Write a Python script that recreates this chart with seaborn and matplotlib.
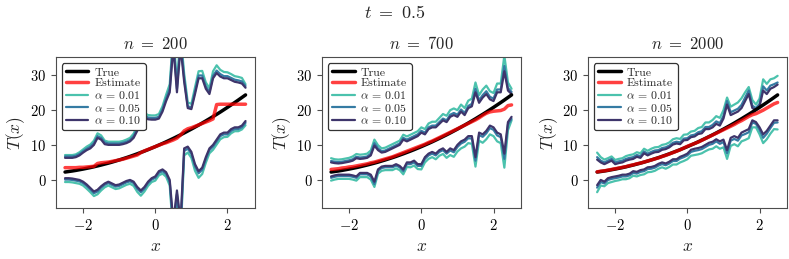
import numpy as np
import pandas as pd
import seaborn as sns
import matplotlib.pyplot as plt

# evaluation grid (x) and true curve T(x)
x_vals = np.round(np.linspace(-2.5, 2.5, 51), 1)
true_T = [2.25, 2.40, 2.55, 2.72, 2.91, 3.10, 3.31, 3.52, 3.75, 4.00,
          4.25, 4.52, 4.79, 5.08, 5.39, 5.70, 6.03, 6.36, 6.71, 7.08,
          7.45, 7.84, 8.23, 8.64, 9.07, 9.50, 9.95, 10.40, 10.87, 11.36,
          11.85, 12.36, 12.87, 13.40, 13.95, 14.50, 15.07, 15.64, 16.23, 16.84,
          17.45, 18.08, 18.71, 19.36, 20.03, 20.70, 21.39, 22.08, 22.79, 23.52,
          24.25]

# ---- n = 200 ----
est_200 = [3.5, 3.5, 3.5, 3.5, 3.6, 3.6, 3.7, 3.8, 3.9, 4.7,
           4.9, 5.0, 5.1, 5.3, 5.5, 5.7, 5.9, 6.2, 6.5, 6.8,
           7.1, 7.8, 8.3, 8.7, 9.1, 9.5, 9.9, 10.3, 10.6, 11.0,
           11.4, 11.9, 12.8, 14.0, 14.6, 14.9, 15.3, 15.7, 16.1, 16.5,
           16.9, 17.4, 21.5, 21.6, 21.6, 21.6, 21.6, 21.6, 21.6, 21.6,
           21.6]
up10_200 = [6.3, 6.3, 6.3, 6.5, 7.0, 7.8, 8.5, 9.0, 10.0, 12.0,
            11.5, 10.2, 10.0, 10.0, 10.0, 10.0, 10.2, 10.5, 11.0, 12.0,
            14.0, 18.0, 17.8, 17.3, 17.2, 17.2, 17.5, 19.5, 22.5, 25.0,
            38.0, 25.0, 38.0, 28.0, 20.5, 20.2, 24.5, 29.0, 29.0, 26.0,
            24.5, 29.0, 30.5, 29.5, 29.0, 29.0, 28.5, 28.0, 27.8, 27.5,
            26.3]
up05_200 = [6.7, 6.7, 6.7, 6.9, 7.4, 8.2, 8.9, 9.5, 10.5, 12.5,
            12.0, 10.7, 10.4, 10.4, 10.4, 10.4, 10.6, 10.9, 11.4, 12.5,
            14.6, 18.6, 18.3, 17.8, 17.7, 17.7, 18.0, 20.1, 23.2, 26.0,
            40.0, 26.0, 40.0, 29.0, 21.0, 20.7, 25.2, 29.8, 29.8, 26.7,
            25.1, 29.7, 31.2, 30.2, 29.6, 29.6, 29.1, 28.6, 28.4, 28.1,
            26.8]
up01_200 = [7.1, 7.1, 7.1, 7.3, 7.9, 8.7, 9.5, 10.1, 11.2, 13.3,
            12.7, 11.2, 10.9, 10.9, 10.9, 10.9, 11.1, 11.5, 12.0, 13.2,
            15.4, 19.4, 19.1, 18.5, 18.4, 18.4, 18.8, 21.0, 24.3, 27.3,
            42.0, 27.3, 42.0, 30.3, 22.1, 21.7, 26.4, 31.0, 31.1, 27.8,
            26.2, 31.0, 32.7, 31.4, 30.8, 30.7, 30.2, 29.6, 29.4, 29.1,
            27.3]
lo10_200 = [0.5, 0.5, 0.4, 0.2, 0.0, -0.5, -1.3, -2.3, -3.3, -2.8,
            -1.8, -1.0, -0.5, -1.0, -1.5, -1.3, -0.8, -0.3, 0.0, -0.5,
            -2.0, -3.0, -2.0, -0.5, 0.5, 1.0, 2.5, 3.0, 2.2, 0.0,
            -12.0, -3.0, -12.0, 9.0, 9.5, 8.0, 4.5, 2.5, 3.5, 6.5,
            9.0, 10.0, 11.5, 13.0, 13.5, 13.5, 14.5, 15.0, 15.0, 15.5,
            16.8]
lo05_200 = [0.1, 0.1, 0.0, -0.2, -0.4, -0.9, -1.7, -2.7, -3.8, -3.3,
            -2.2, -1.4, -0.9, -1.4, -1.9, -1.7, -1.2, -0.7, -0.4, -0.9,
            -2.5, -3.5, -2.5, -0.9, 0.1, 0.6, 2.0, 2.5, 1.7, -0.6,
            -14.0, -4.0, -14.0, 8.3, 8.9, 7.4, 3.9, 1.9, 2.9, 5.9,
            8.5, 9.5, 11.0, 12.5, 13.0, 13.0, 14.0, 14.5, 14.5, 15.0,
            16.3]
lo01_200 = [-0.6, -0.6, -0.7, -0.9, -1.1, -1.6, -2.5, -3.5, -4.6, -4.1,
            -3.0, -2.1, -1.6, -2.1, -2.6, -2.4, -1.9, -1.4, -1.1, -1.7,
            -3.4, -4.5, -3.3, -1.7, -0.6, -0.2, 1.3, 1.8, 0.9, -1.6,
            -16.0, -5.5, -16.0, 7.0, 7.8, 6.3, 2.6, 0.6, 1.7, 4.9,
            7.6, 8.6, 10.1, 11.6, 12.2, 12.3, 13.3, 13.9, 13.9, 14.4,
            15.6]

# ---- n = 700 ----
est_700 = [3.0, 3.1, 3.2, 3.4, 3.5, 3.7, 3.8, 4.0, 4.2, 4.4,
           4.6, 4.9, 5.1, 5.4, 5.7, 6.0, 6.3, 6.6, 7.0, 7.4,
           7.8, 8.2, 8.6, 9.0, 9.4, 9.8, 10.2, 10.7, 11.1, 11.6,
           12.1, 12.6, 13.1, 13.6, 14.1, 14.6, 15.1, 15.6, 16.1, 16.6,
           17.1, 17.7, 18.4, 19.0, 19.4, 19.6, 19.7, 19.8, 20.2, 21.2,
           21.4]
up10_700 = [5.0, 4.8, 4.7, 4.8, 5.0, 5.2, 5.5, 6.2, 6.0, 6.1,
            6.3, 7.0, 9.8, 8.5, 7.8, 8.0, 8.5, 9.0, 9.5, 10.0,
            11.5, 11.0, 11.5, 12.0, 12.5, 13.5, 13.0, 14.5, 15.0, 15.0,
            16.0, 17.0, 16.5, 18.0, 18.5, 18.0, 19.5, 18.5, 20.5, 21.0,
            25.0, 22.0, 23.5, 24.5, 23.0, 22.5, 25.0, 25.0, 31.0, 25.5,
            24.5]
up05_700 = [5.4, 5.2, 5.1, 5.2, 5.4, 5.6, 5.9, 6.6, 6.4, 6.5,
            6.7, 7.5, 10.5, 9.0, 8.2, 8.4, 8.9, 9.4, 9.9, 10.4,
            12.0, 11.5, 12.0, 12.5, 13.0, 14.0, 13.5, 15.0, 15.5, 15.5,
            16.5, 17.5, 17.0, 18.6, 19.1, 18.6, 20.1, 19.1, 21.1, 21.7,
            26.0, 22.7, 24.2, 25.3, 23.7, 23.2, 25.8, 25.8, 32.5, 26.2,
            25.1]
up01_700 = [6.2, 5.9, 5.8, 5.9, 6.1, 6.3, 6.7, 7.4, 7.2, 7.3,
            7.5, 8.4, 11.5, 9.9, 9.0, 9.2, 9.7, 10.2, 10.7, 11.2,
            12.9, 12.4, 12.9, 13.4, 13.9, 15.0, 14.5, 16.1, 16.6, 16.6,
            17.7, 18.8, 18.3, 19.9, 20.4, 19.9, 21.5, 20.5, 22.6, 23.2,
            27.8, 24.2, 25.8, 26.9, 25.3, 24.8, 27.5, 27.5, 35.5, 27.8,
            26.0]
lo10_700 = [1.0, 1.3, 1.5, 1.5, 1.5, 1.5, 1.3, 1.0, 2.0, 2.0,
            2.0, 1.5, -0.5, 3.0, 3.8, 4.0, 4.0, 4.0, 4.5, 4.0,
            3.0, 5.0, 5.0, 5.5, 4.5, 4.5, 6.5, 7.5, 8.0, 7.5,
            8.5, 9.0, 8.0, 9.0, 8.5, 10.0, 11.0, 11.5, 12.5, 12.5,
            6.5, 13.5, 13.0, 14.0, 15.5, 15.0, 13.5, 13.0, 7.5, 16.5,
            18.0]
lo05_700 = [0.6, 0.9, 1.1, 1.1, 1.1, 1.1, 0.9, 0.6, 1.6, 1.6,
            1.6, 1.0, -1.2, 2.6, 3.4, 3.6, 3.6, 3.6, 4.1, 3.6,
            2.5, 4.5, 4.5, 5.0, 4.0, 4.0, 6.0, 7.0, 7.5, 7.0,
            8.0, 8.5, 7.5, 8.4, 7.9, 9.4, 10.4, 10.9, 11.9, 11.8,
            5.5, 12.8, 12.3, 13.3, 14.8, 14.3, 12.7, 12.2, 6.0, 15.8,
            17.4]
lo01_700 = [-0.2, 0.1, 0.3, 0.3, 0.3, 0.3, 0.1, -0.2, 0.8, 0.8,
            0.8, 0.1, -2.0, 1.8, 2.6, 2.8, 2.8, 2.8, 3.3, 2.8,
            1.6, 3.7, 3.6, 4.1, 3.1, 3.0, 5.0, 6.0, 6.5, 5.9,
            6.9, 7.4, 6.3, 7.1, 6.6, 8.1, 9.0, 9.5, 10.5, 10.3,
            3.8, 11.2, 10.6, 11.6, 13.0, 12.5, 11.0, 10.5, 3.5, 14.2,
            17.0]

# ---- n = 2000 ----
est_2000 = [2.3, 2.5, 2.6, 2.8, 3.0, 3.2, 3.4, 3.6, 3.8, 4.1,
            4.3, 4.6, 4.8, 5.1, 5.4, 5.7, 6.0, 6.3, 6.7, 7.0,
            7.4, 7.8, 8.2, 8.6, 9.1, 9.6, 10.0, 10.4, 10.8, 11.3,
            11.8, 12.3, 12.8, 13.3, 13.8, 14.3, 14.8, 15.3, 15.8, 16.4,
            16.9, 17.5, 18.1, 18.6, 18.9, 19.4, 19.9, 20.5, 21.1, 21.7,
            22.1]
up10_2000 = [5.8, 5.0, 4.5, 5.0, 5.5, 4.5, 4.8, 5.0, 5.5, 5.8,
             6.0, 6.6, 6.3, 7.6, 7.0, 7.5, 7.9, 8.0, 8.6, 8.8,
             9.3, 10.1, 10.4, 10.2, 11.3, 11.4, 12.2, 12.4, 13.1, 13.3,
             14.5, 14.5, 15.0, 16.0, 15.5, 17.5, 21.5, 18.5, 19.0, 19.5,
             20.5, 22.5, 24.5, 20.5, 20.0, 21.0, 25.5, 24.5, 26.0, 26.5,
             27.2]
up05_2000 = [6.5, 5.5, 5.0, 5.5, 6.0, 5.0, 5.3, 5.5, 6.0, 6.3,
             6.5, 7.1, 6.8, 8.1, 7.5, 8.0, 8.4, 8.5, 9.1, 9.3,
             9.8, 10.6, 10.9, 10.7, 11.8, 11.9, 12.7, 12.9, 13.6, 13.9,
             15.1, 15.1, 15.7, 16.7, 16.2, 18.3, 22.5, 19.3, 19.8, 20.3,
             21.4, 23.5, 25.5, 21.2, 20.5, 21.7, 26.7, 25.5, 26.9, 27.3,
             27.8]
up01_2000 = [7.8, 6.5, 5.8, 6.2, 6.7, 5.7, 6.0, 6.2, 6.8, 7.1,
             7.3, 7.9, 7.6, 8.9, 8.3, 8.9, 9.3, 9.4, 10.0, 10.2,
             10.7, 11.6, 11.9, 11.7, 12.9, 13.0, 13.8, 14.0, 14.8, 15.1,
             16.4, 16.4, 17.1, 18.2, 17.7, 19.9, 23.5, 20.9, 21.5, 22.1,
             23.3, 25.0, 26.5, 22.8, 21.5, 23.2, 28.7, 27.4, 28.7, 29.0,
             29.7]
lo10_2000 = [-1.5, 0.0, -0.5, 0.5, 0.8, 1.0, 1.2, 1.5, 1.5, 1.8,
             2.5, 2.3, 2.8, 3.0, 3.6, 3.7, 4.0, 4.6, 5.0, 4.7,
             5.2, 5.9, 5.9, 6.6, 7.0, 7.5, 8.6, 8.9, 9.1, 9.4,
             10.0, 10.6, 10.9, 11.6, 11.0, 11.5, 8.5, 12.0, 12.5, 12.0,
             13.5, 14.0, 14.5, 17.0, 16.5, 15.0, 13.0, 14.0, 15.5, 17.0,
             17.0]
lo05_2000 = [-2.2, -0.6, -1.0, 0.0, 0.3, 0.5, 0.7, 1.0, 1.0, 1.3,
             2.0, 1.8, 2.3, 2.5, 3.1, 3.2, 3.5, 4.1, 4.5, 4.2,
             4.7, 5.4, 5.4, 6.1, 6.5, 7.0, 8.0, 8.3, 8.5, 8.8,
             9.4, 10.0, 10.3, 11.0, 10.3, 10.8, 7.6, 11.2, 11.7, 11.2,
             12.7, 13.1, 13.6, 16.4, 16.0, 14.3, 12.0, 13.2, 14.8, 16.3,
             16.4]
lo01_2000 = [-3.5, -1.6, -1.8, -0.9, -0.6, -0.3, -0.1, 0.2, 0.2, 0.5,
             1.2, 1.0, 1.4, 1.6, 2.2, 2.3, 2.6, 3.2, 3.6, 3.2,
             3.7, 4.4, 4.4, 5.0, 5.4, 5.9, 6.9, 7.1, 7.3, 7.6,
             8.2, 8.7, 8.9, 9.6, 8.9, 9.3, 6.0, 9.7, 10.2, 9.6,
             11.0, 11.4, 11.9, 15.0, 15.0, 13.0, 10.5, 11.6, 13.2, 14.5,
             14.4]

alphas = [0.01, 0.05, 0.10]
panels = [
    (200, est_200, [(lo01_200, up01_200), (lo05_200, up05_200), (lo10_200, up10_200)]),
    (700, est_700, [(lo01_700, up01_700), (lo05_700, up05_700), (lo10_700, up10_700)]),
    (2000, est_2000, [(lo01_2000, up01_2000), (lo05_2000, up05_2000), (lo10_2000, up10_2000)]),
]

sns.set_style("ticks")
plt.rcParams['font.family'] = 'serif'
plt.rcParams['font.serif'] = ['cmr10', 'DejaVu Serif']
plt.rcParams['mathtext.fontset'] = 'cm'
plt.rcParams['axes.formatter.use_mathtext'] = True
plt.rcParams['axes.edgecolor'] = '0.3'
plt.rcParams['xtick.color'] = '0.3'
plt.rcParams['ytick.color'] = '0.3'
plt.rcParams['xtick.labelcolor'] = 'black'
plt.rcParams['ytick.labelcolor'] = 'black'

band_colors = sns.color_palette("mako", 3)[::-1]  # teal, blue, dark

fig, axes = plt.subplots(1, 3, figsize=(7.89, 2.59), dpi=100)
fig.subplots_adjust(left=0.071, right=0.997, bottom=0.197, top=0.779, wspace=0.34)

for ax, (n, est, bands) in zip(axes, panels):
    handles = {}
    for a, (lo, up), col in zip(alphas, bands, band_colors):
        sns.lineplot(x=x_vals, y=up, ax=ax, color=col, lw=1.6)
        sns.lineplot(x=x_vals, y=lo, ax=ax, color=col, lw=1.6)
        handles[a] = ax.lines[-1]
    sns.lineplot(x=x_vals, y=true_T, ax=ax, color='black', lw=2.5)
    h_true = ax.lines[-1]
    sns.lineplot(x=x_vals, y=est, ax=ax, color='red', lw=2.5, alpha=0.75)
    h_est = ax.lines[-1]

    leg = ax.legend([h_true, h_est] + [handles[a] for a in alphas],
                    ['True', 'Estimate'] + [rf'$\alpha$ = {a:.2f}' for a in alphas],
                    loc='upper left', fontsize=8.5, labelspacing=0.05,
                    borderpad=0.35, handlelength=1.9, handletextpad=0.5,
                    framealpha=1, edgecolor='0.2', fancybox=True)
    leg.get_frame().set_linewidth(0.9)

    ax.set_ylim(-8, 35)
    ax.set_xlim(-2.75, 2.75)
    ax.set_yticks([0, 10, 20, 30])
    ax.set_xticks([-2, 0, 2])
    ax.tick_params(labelsize=10.5, length=3.5, width=0.8)
    ax.set_title(rf'$n\ =\ {n}$', fontsize=12, pad=6)
    ax.set_xlabel(r'$x$', fontsize=12.5)
    ax.set_ylabel(r'$T(x)$', fontsize=12.5, labelpad=2)

fig.suptitle(r'$t\ =\ 0.5$', fontsize=13, y=0.985)

plt.savefig("out.png", dpi=100)
